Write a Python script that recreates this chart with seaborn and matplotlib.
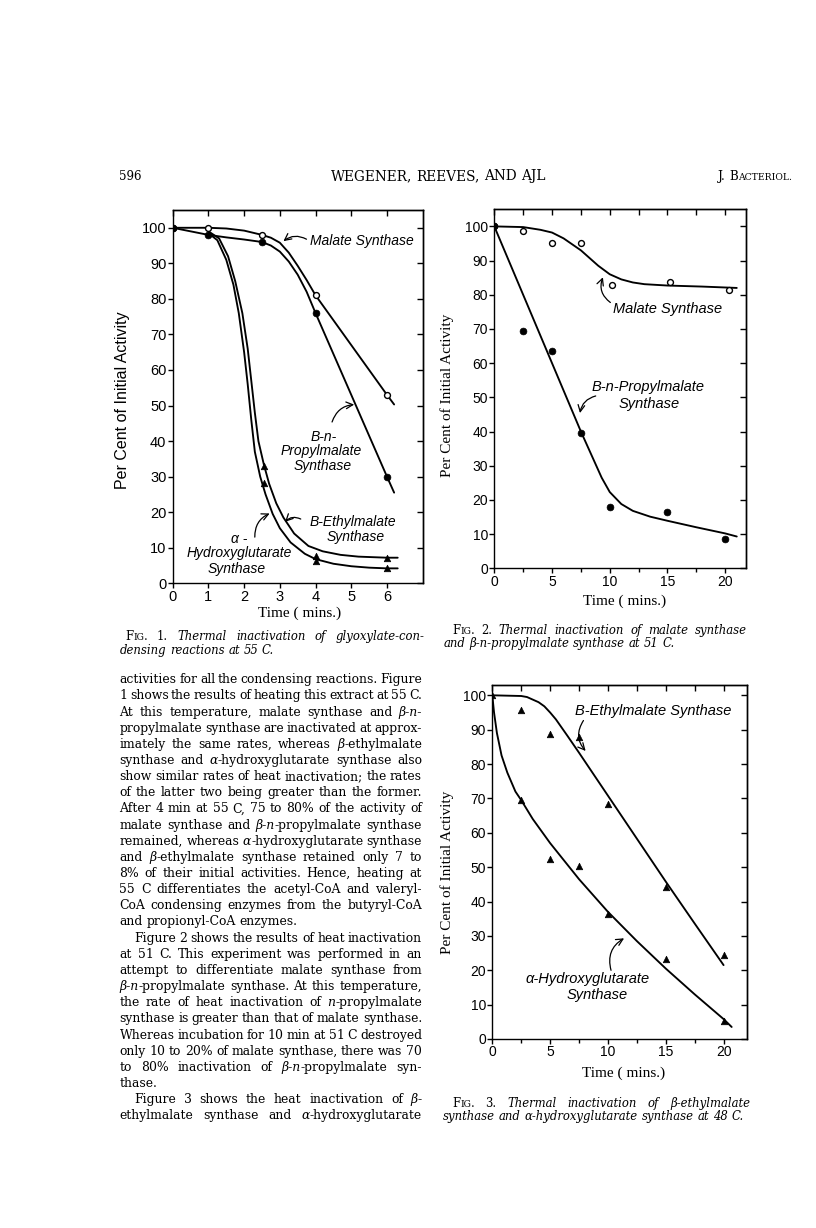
import matplotlib
matplotlib.use("Agg")
import matplotlib.pyplot as plt
import numpy as np
import pandas as pd
import seaborn as sns

# ---------------- data ----------------
# Fig. 1 (55 C)
f1_time = [0, 1, 2.5, 4, 6]
f1_malate = [100, 100, 98, 81, 53]
f1_propyl = [100, 98, 96, 76, 30]
f1_tri_time = [2.55, 4, 6]
f1_ethyl = [33.1, 7.7, 7.2]
f1_hydroxy = [28.1, 6.4, 4.2]
# hand-drawn curves of Fig. 1
f1_malate_cx = [0, 1, 1.5, 2, 2.5, 2.75, 3, 3.25, 3.5, 3.75, 4, 4.5, 5, 5.5, 6, 6.2]
f1_malate_cy = [100, 100, 99.8, 99.2, 98, 97.2, 95.8, 93, 89.3, 85.3, 81, 74, 67, 60, 53, 50.3]
f1_propyl_cx = [0, 1, 1.5, 2, 2.5, 2.75, 3, 3.25, 3.5, 3.75, 4, 5, 6, 6.2]
f1_propyl_cy = [100, 98, 97.3, 96.7, 96, 95, 93.3, 90.5, 86.8, 82, 76, 53, 30, 25.5]
f1_ethyl_cx = [1.0, 1.3, 1.55, 1.75, 1.95, 2.1, 2.2, 2.3, 2.4, 2.55, 2.7, 2.9, 3.1, 3.4, 3.8, 4.2, 4.7, 5.2, 6.0, 6.3]
f1_ethyl_cy = [99, 97, 92, 85, 76, 66, 57, 48, 40, 33.5, 28, 22.5, 18.5, 14, 10.5, 9, 8, 7.5, 7.2, 7.2]
f1_hydroxy_cx = [1.0, 1.25, 1.5, 1.7, 1.85, 2.0, 2.1, 2.2, 2.3, 2.45, 2.6, 2.8, 3.0, 3.3, 3.7, 4.0, 4.5, 5.0, 5.5, 6.0, 6.3]
f1_hydroxy_cy = [98.5, 96.5, 91, 84, 76, 65, 56, 46, 37, 30, 25, 19.5, 15.5, 11.5, 8.3, 6.8, 5.5, 4.8, 4.4, 4.2, 4.2]

# Fig. 2 (51 C)
f2_malate_time = [0, 2.5, 5, 7.5, 10.2, 15.2, 20.3]
f2_malate = [100, 98.7, 95, 95, 82.8, 83.8, 81.5]
f2_propyl_time = [0, 2.5, 5, 7.5, 10, 15, 20]
f2_propyl = [100, 69.5, 63.5, 39.5, 17.8, 16.4, 8.7]
f2_malate_cx = [0, 2.5, 4, 5, 6, 7.5, 9, 10, 11, 12, 13, 15, 18, 21]
f2_malate_cy = [100, 99.8, 99, 98.2, 96.5, 93, 88.5, 86, 84.5, 83.6, 83.1, 82.7, 82.4, 82.0]
f2_propyl_cx = [0, 2.5, 5, 7.5, 8.5, 9.3, 10, 11, 12, 13.5, 15, 17.5, 20, 21]
f2_propyl_cy = [100, 80, 60, 40, 32.5, 26.5, 22.3, 18.8, 16.8, 15.1, 13.9, 12, 10.2, 9.3]

# Fig. 3 (48 C)
f3_ethyl_time = [0, 2.5, 5, 7.5, 10, 15, 20]
f3_ethyl = [100, 95.8, 88.8, 87.8, 68.5, 44.2, 24.5]
f3_hydroxy_time = [2.5, 5, 7.5, 10, 15, 20]
f3_hydroxy = [69.4, 52.4, 50.4, 36.5, 23.4, 5.1]
f3_ethyl_cx = [0, 2.5, 3, 4, 4.5, 5, 5.5, 6, 6.5, 7.5, 10, 12.5, 15, 17.5, 20]
f3_ethyl_cy = [100, 99.8, 99.5, 98, 96.8, 95, 93, 90.6, 88.2, 83.3, 70.8, 58.3, 45.8, 33.6, 21.5]
f3_hydroxy_cx = [0, 0.15, 0.4, 0.8, 1.3, 2, 2.5, 3.5, 5, 7.5, 10, 12.5, 15, 17.5, 20, 20.7]
f3_hydroxy_cy = [100, 95, 89, 82.5, 77.5, 72, 69.5, 64, 57, 46.5, 37, 28.5, 20.5, 13, 5.8, 3.5]

y_ticks = [0, 10, 20, 30, 40, 50, 60, 70, 80, 90, 100]
f1_xticks = [0, 1, 2, 3, 4, 5, 6]
f23_xticks = [0, 5, 10, 15, 20]
f23_xminor = [2.5, 7.5, 12.5, 17.5]

HEADER = ["596", "WEGENER, REEVES, AND AJL", "J. B#ACTERIOL.#"]
CAP1 = ["F#IG#. 1. *Thermal inactivation of glyoxylate-con-*",
        "*densing reactions at 55 C.*"]
CAP2 = ["F#IG#. 2. *Thermal inactivation of malate synthase*",
        "*and β-n-propylmalate synthase at 51 C.*"]
CAP3 = ["F#IG#. 3. *Thermal inactivation of β-ethylmalate*",
        "*synthase and α-hydroxyglutarate synthase at 48 C.*"]
BODY = [
    "activities for all the condensing reactions. Figure",
    "1 shows the results of heating this extract at 55 C.",
    "At this temperature, malate synthase and *β-n-*",
    "propylmalate synthase are inactivated at approx-",
    "imately the same rates, whereas *β*-ethylmalate",
    "synthase and *α*-hydroxyglutarate synthase also",
    "show similar rates of heat inactivation; the rates",
    "of the latter two being greater than the former.",
    "After 4 min at 55 C, 75 to 80% of the activity of",
    "malate synthase and *β-n*-propylmalate synthase",
    "remained, whereas *α*-hydroxyglutarate synthase",
    "and *β*-ethylmalate synthase retained only 7 to",
    "8% of their initial activities. Hence, heating at",
    "55 C differentiates the acetyl-CoA and valeryl-",
    "CoA condensing enzymes from the butyryl-CoA",
    "and propionyl-CoA enzymes.",
    "Figure 2 shows the results of heat inactivation",
    "at 51 C. This experiment was performed in an",
    "attempt to differentiate malate synthase from",
    "*β-n*-propylmalate synthase. At this temperature,",
    "the rate of heat inactivation of *n*-propylmalate",
    "synthase is greater than that of malate synthase.",
    "Whereas incubation for 10 min at 51 C destroyed",
    "only 10 to 20% of malate synthase, there was 70",
    "to 80% inactivation of *β-n*-propylmalate syn-",
    "thase.",
    "Figure 3 shows the heat inactivation of *β*-",
    "ethylmalate synthase and *α*-hydroxyglutarate",
]
BODY_INDENT = {16, 26}
BODY_RAGGED = {15, 25}

# ---------------- style ----------------
sns.set_theme(style="ticks", rc={
    "axes.edgecolor": "black", "xtick.color": "black", "ytick.color": "black",
    "text.color": "black", "axes.labelcolor": "black", "axes.linewidth": 1.0,
})
plt.rcParams["font.family"] = ["Liberation Sans", "DejaVu Sans"]

W, H = 816, 1228
fig = plt.figure(figsize=(W / 100, H / 100), dpi=100)
fig.patch.set_facecolor("white")


def rect(l, t, r, b):
    return [l / W, 1 - b / H, (r - l) / W, (b - t) / H]


ax1 = fig.add_axes(rect(172.7, 210, 422.7, 583.3))
ax2 = fig.add_axes(rect(494.3, 209.3, 746, 568.3))
ax3 = fig.add_axes(rect(492.3, 685, 746.7, 1039))

LW = 1.35


def curve(ax, xs, ys):
    sns.lineplot(x=xs, y=ys, ax=ax, color="black", lw=LW, sort=False,
                 estimator=None, zorder=3)


def open_pts(ax, xs, ys):
    sns.scatterplot(x=xs, y=ys, ax=ax, marker="o", s=18, color="white",
                    edgecolor="black", linewidth=1.0, zorder=5)


def filled_pts(ax, xs, ys):
    sns.scatterplot(x=xs, y=ys, ax=ax, marker="o", s=24, color="black",
                    edgecolor="black", linewidth=0.5, zorder=6)


def tri_pts(ax, xs, ys):
    sns.scatterplot(x=xs, y=ys, ax=ax, marker="^", s=22, color="black",
                    edgecolor="black", linewidth=0.5, zorder=6)


def style_axes(ax, xlim, ylim, xticks, xminor, fs, ylabel_font, ylab_xy, xlab_xy, ylab_fs):
    ax.set_xlim(*xlim)
    ax.set_ylim(*ylim)
    ax.set_xticks(xticks)
    ax.set_xticklabels([str(t) for t in xticks])
    if xminor:
        ax.set_xticks(xminor, minor=True)
    ax.set_yticks(y_ticks)
    ax.set_yticklabels([str(t) for t in y_ticks])
    ax.tick_params(axis="both", which="major", direction="out", length=3.5,
                   width=1.0, labelsize=fs, pad=1)
    ax.tick_params(axis="x", which="minor", direction="out", length=3.0, width=1.0)
    for s in ax.spines.values():
        s.set_visible(True)
        s.set_linewidth(1.0)
    sx = ax.secondary_xaxis("top")
    sx.set_xticks(list(xticks) + list(xminor or []))
    sx.tick_params(direction="in", length=4, width=1.0, labeltop=False)
    sy = ax.secondary_yaxis("right")
    sy.set_yticks(y_ticks)
    sy.tick_params(direction="in", length=4, width=1.0, labelright=False)
    ax.set_ylabel("Per Cent of Initial Activity", fontsize=ylab_fs, family=ylabel_font)
    ax.yaxis.set_label_coords(*ylab_xy)
    ax.yaxis.label.set_va("center")
    ax.set_xlabel("Time ( mins.)", fontsize=11, family=["Liberation Serif", "DejaVu Serif"])
    ax.xaxis.set_label_coords(*xlab_xy)
    ax.xaxis.label.set_va("center")
    ax.set_facecolor("white")


LAB = dict(style="italic", color="black")
ARW = dict(arrowstyle="->", lw=0.9, color="black", shrinkA=1, shrinkB=1)

# ---- Fig. 1 ----
curve(ax1, f1_malate_cx, f1_malate_cy)
curve(ax1, f1_propyl_cx, f1_propyl_cy)
curve(ax1, f1_ethyl_cx, f1_ethyl_cy)
curve(ax1, f1_hydroxy_cx, f1_hydroxy_cy)
open_pts(ax1, f1_time, f1_malate)
filled_pts(ax1, f1_time, f1_propyl)
tri_pts(ax1, f1_tri_time, f1_ethyl)
tri_pts(ax1, f1_tri_time, f1_hydroxy)
style_axes(ax1, (0, 7), (0, 105), f1_xticks, None, 10.5,
           ["Liberation Sans", "DejaVu Sans"], (-0.199, 0.49), (0.509, -0.08), 11.5)
fs1 = 10
ax1.text(3.85, 96.4, "Malate Synthase", fontsize=fs1, ha="left", va="center", **LAB)
ax1.text(4.24, 41.2, "B-n-", fontsize=fs1, ha="center", va="center", **LAB)
ax1.text(4.17, 37.3, "Propylmalate", fontsize=fs1, ha="center", va="center", **LAB)
ax1.text(4.19, 33.1, "Synthase", fontsize=fs1, ha="center", va="center", **LAB)
ax1.text(3.82, 17.3, "B-Ethylmalate", fontsize=fs1, ha="left", va="center", **LAB)
ax1.text(5.12, 13.1, "Synthase", fontsize=fs1, ha="center", va="center", **LAB)
ax1.text(1.85, 12.6, "α -", fontsize=fs1, ha="center", va="center", **LAB)
ax1.text(1.85, 8.4, "Hydroxyglutarate", fontsize=fs1, ha="center", va="center", **LAB)
ax1.text(1.78, 3.9, "Synthase", fontsize=fs1, ha="center", va="center", **LAB)
ax1.annotate("", xy=(3.07, 96.0), xytext=(3.78, 96.6),
             arrowprops=dict(connectionstyle="arc3,rad=0.35", **ARW))
ax1.annotate("", xy=(5.12, 50.3), xytext=(4.45, 45.0),
             arrowprops=dict(connectionstyle="arc3,rad=-0.35", **ARW))
ax1.annotate("", xy=(3.12, 17.0), xytext=(3.62, 17.9),
             arrowprops=dict(connectionstyle="arc3,rad=0.4", **ARW))
ax1.annotate("", xy=(2.75, 19.8), xytext=(2.3, 12.6),
             arrowprops=dict(connectionstyle="arc3,rad=-0.35", **ARW))

# ---- Fig. 2 ----
curve(ax2, f2_malate_cx, f2_malate_cy)
curve(ax2, f2_propyl_cx, f2_propyl_cy)
open_pts(ax2, f2_malate_time, f2_malate)
filled_pts(ax2, f2_propyl_time, f2_propyl)
style_axes(ax2, (0, 21.8), (0, 105), f23_xticks, f23_xminor, 10,
           ["Liberation Serif", "DejaVu Serif"], (-0.189, 0.483), (0.519, -0.093), 11)
fs2 = 10.5
ax2.text(10.3, 75.7, "Malate Synthase", fontsize=fs2, ha="left", va="center", **LAB)
ax2.text(8.44, 52.9, "B-n-Propylmalate", fontsize=fs2, ha="left", va="center", **LAB)
ax2.text(13.4, 48.0, "Synthase", fontsize=fs2, ha="center", va="center", **LAB)
ax2.annotate("", xy=(9.45, 85.5), xytext=(10.15, 77.5),
             arrowprops=dict(connectionstyle="arc3,rad=-0.4", **ARW))
ax2.annotate("", xy=(7.4, 45.0), xytext=(8.9, 50.5),
             arrowprops=dict(connectionstyle="arc3,rad=0.35", **ARW))

# ---- Fig. 3 ----
curve(ax3, f3_ethyl_cx, f3_ethyl_cy)
curve(ax3, f3_hydroxy_cx, f3_hydroxy_cy)
tri_pts(ax3, f3_ethyl_time, f3_ethyl)
tri_pts(ax3, f3_hydroxy_time, f3_hydroxy)
style_axes(ax3, (0, 22), (0, 103), f23_xticks, f23_xminor, 10,
           ["Liberation Serif", "DejaVu Serif"], (-0.179, 0.472), (0.515, -0.096), 11)
ax3.text(7.14, 95.4, "B-Ethylmalate Synthase", fontsize=fs2, ha="left", va="center", **LAB)
ax3.text(2.9, 17.4, "α-Hydroxyglutarate", fontsize=fs2, ha="left", va="center", **LAB)
ax3.text(9.07, 12.8, "Synthase", fontsize=fs2, ha="center", va="center", **LAB)
ax3.annotate("", xy=(8.15, 83.5), xytext=(7.95, 93.0),
             arrowprops=dict(connectionstyle="arc3,rad=0.4", **ARW))
ax3.annotate("", xy=(11.5, 29.5), xytext=(10.3, 19.6),
             arrowprops=dict(connectionstyle="arc3,rad=-0.4", **ARW))

# ---------------- page text ----------------
renderer = fig.canvas.get_renderer()
SERIF = ["DejaVu Serif"]
SC = 0.78


def measure(s, size, italic):
    t = fig.text(0, 0, s, fontsize=size, family=SERIF, style="italic" if italic else "normal")
    w = t.get_window_extent(renderer).width
    t.remove()
    return w


def parse(line):
    words = []
    italic = False
    small = False
    for w in line.split(" "):
        segs = []
        buf = ""
        for ch in w:
            if ch in "*#":
                if buf:
                    segs.append((buf, italic, small))
                    buf = ""
                if ch == "*":
                    italic = not italic
                else:
                    small = not small
            else:
                buf += ch
        if buf:
            segs.append((buf, italic, small))
        if segs:
            words.append(segs)
    return words


def natural(line, size):
    words = parse(line)
    total = sum(measure(s, size * (SC if sm else 1), it) for segs in words for (s, it, sm) in segs)
    space = measure("n n", size, False) - measure("nn", size, False)
    return total + space * (len(words) - 1)


def draw_line(x0, x1, yc, line, size, mode="left", indent=0.0):
    words = parse(line)
    widths = [[measure(s, size * (SC if sm else 1), it) for (s, it, sm) in segs] for segs in words]
    total = sum(sum(w) for w in widths)
    space = measure("n n", size, False) - measure("nn", size, False)
    n = len(words)
    if mode == "justify" and n > 1:
        gap = (x1 - x0 - indent - total) / (n - 1)
        x = x0 + indent
    elif mode == "right":
        gap = space
        x = x1 - (total + space * (n - 1))
    elif mode == "center":
        gap = space
        x = (x0 + x1) / 2 - (total + space * (n - 1)) / 2
    else:
        gap = space
        x = x0 + indent
    yb = yc + 0.3 * size * 100 / 72
    for segs, ws in zip(words, widths):
        for (s, it, sm), w in zip(segs, ws):
            fig.text(x / W, 1 - yb / H, s, fontsize=size * (SC if sm else 1), family=SERIF,
                     style="italic" if it else "normal", ha="left", va="baseline")
            x += w
        x += gap


# body font size chosen so that justified lines get ordinary word spacing
BX0, BX1 = 119.5, 422.0
base = 8.0
ratios = []
for i, line in enumerate(BODY):
    if i in BODY_RAGGED:
        continue
    ind = 15 if i in BODY_INDENT else 0
    ratios.append((BX1 - BX0 - ind) / natural(line, base))
FS = min(base * float(np.median(ratios)) * 0.985, 10.5)

# caption size: last caption line (full width, ragged) must end near x=745
CFS = base * (745 - 443.3) / natural(CAP3[1], base)

# header
draw_line(119, 200, 176, HEADER[0], 8.6, "left")
draw_line(300, 576, 176, HEADER[1], 9.8, "center")
draw_line(600, 792, 176, HEADER[2], 8.6, "right")

# captions
draw_line(125, 424, 636, CAP1[0], CFS, "justify")
draw_line(119.5, 424, 650, CAP1[1], CFS, "left")
draw_line(452, 747, 630, CAP2[0], CFS, "justify")
draw_line(443.3, 747, 643.5, CAP2[1], CFS, "left")
draw_line(452, 750, 1103, CAP3[0], CFS, "justify")
draw_line(443.3, 750, 1116, CAP3[1], CFS, "left")

# body
y0, dy = 679.5, 16.15
for i, line in enumerate(BODY):
    mode = "left" if i in BODY_RAGGED else "justify"
    ind = 15 if i in BODY_INDENT else 0
    draw_line(BX0, BX1, y0 + i * dy, line, FS, mode, ind)

fig.savefig("out.png", dpi=100, facecolor="white")
